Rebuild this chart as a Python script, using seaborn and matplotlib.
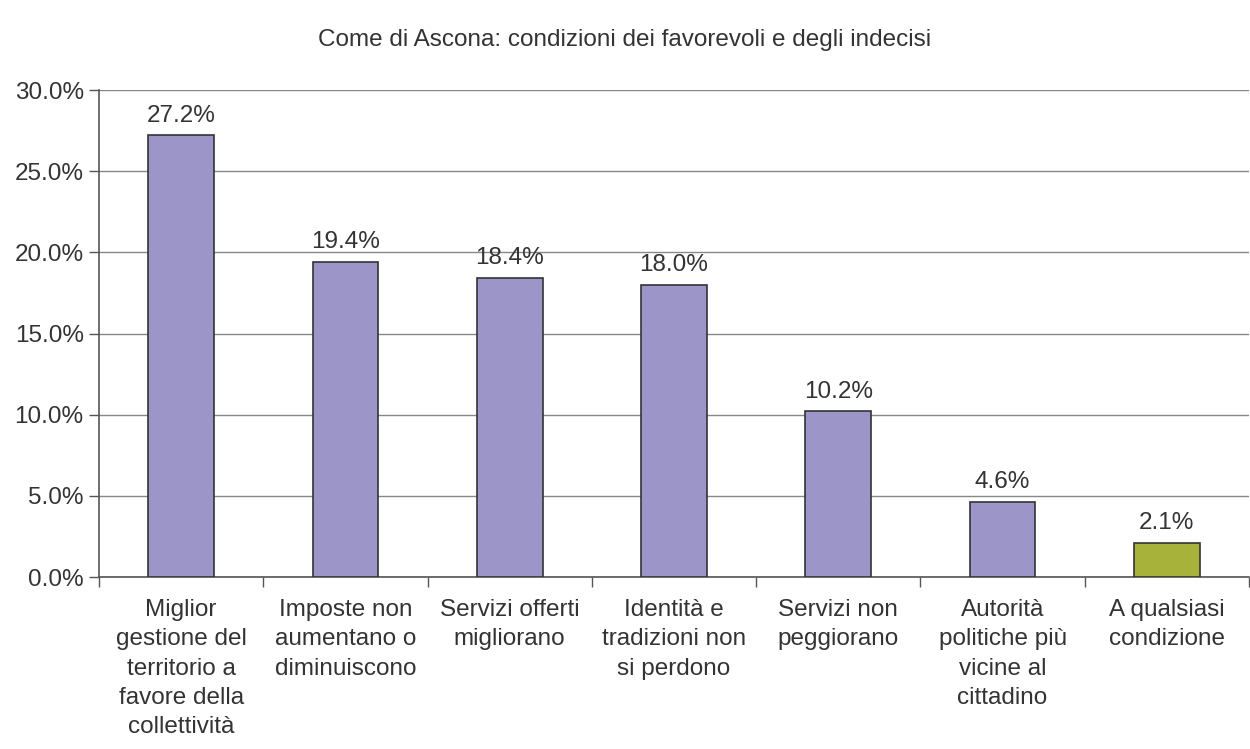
import matplotlib
matplotlib.use("Agg")
import matplotlib.pyplot as plt
import seaborn as sns
import pandas as pd
from matplotlib.ticker import FuncFormatter, MultipleLocator

# Chart data
categories = [
    "Miglior\ngestione del\nterritorio a\nfavore della\ncollettività",
    "Imposte non\naumentano o\ndiminuiscono",
    "Servizi offerti\nmigliorano",
    "Identità e\ntradizioni non\nsi perdono",
    "Servizi non\npeggiorano",
    "Autorità\npolitiche più\nvicine al\ncittadino",
    "A qualsiasi\ncondizione",
]
values = [27.2, 19.4, 18.4, 18.0, 10.2, 4.6, 2.1]
bar_colors = ["#9c95c8"] * 6 + ["#a7b23a"]

df = pd.DataFrame({"cat": categories, "val": values})

sns.set_style("white")
plt.rcParams['font.family'] = ['Liberation Sans', 'DejaVu Sans']
text_color = "#333333"
fs = 17.5

fig = plt.figure(figsize=(12.5, 7.49), dpi=100)
ax = fig.add_axes([0.0792, 0.2296, 0.9200, 0.6502])

sns.barplot(data=df, x="cat", y="val", hue="cat", palette=bar_colors,
            saturation=1, legend=False, width=0.40, edgecolor="#333333",
            linewidth=1.2, ax=ax, zorder=3)

ax.set_ylim(0, 30)
ax.set_xlim(-0.5, len(categories) - 0.5)
ax.yaxis.set_major_locator(MultipleLocator(5))
ax.yaxis.set_major_formatter(FuncFormatter(lambda v, p: f"{v:.1f}%"))
ax.grid(axis="y", color="#888888", linewidth=1.0, zorder=0)
ax.set_xlabel("")
ax.set_ylabel("")

# value labels
for i, v in enumerate(values):
    ax.text(i, v + 0.55, f"{v:.1f}%", ha="center", va="bottom",
            fontsize=fs, color=text_color)

# category boundaries as ticks on x axis
ax.set_xticks([i - 0.5 for i in range(len(categories) + 1)], minor=True)
ax.set_xticks(range(len(categories)))
ax.set_xticklabels(categories, fontsize=fs, color=text_color, linespacing=1.42)
ax.tick_params(axis="x", which="major", length=0, pad=16)
ax.tick_params(axis="x", which="minor", length=7, width=1, color="#555555",
               direction="out", bottom=True)
ax.tick_params(axis="y", length=7, width=1, color="#555555", direction="out",
               left=True, labelsize=fs, labelcolor=text_color, pad=4)

for s in ["top", "right"]:
    ax.spines[s].set_visible(False)
ax.spines["left"].set_color("#555555")
ax.spines["bottom"].set_color("#555555")
ax.spines["left"].set_linewidth(1.2)
ax.spines["bottom"].set_linewidth(1.2)

fig.text(0.5, 0.947, "Come di Ascona: condizioni dei favorevoli e degli indecisi",
         ha="center", va="center", fontsize=fs, color=text_color)

fig.savefig("out.png", dpi=100)
